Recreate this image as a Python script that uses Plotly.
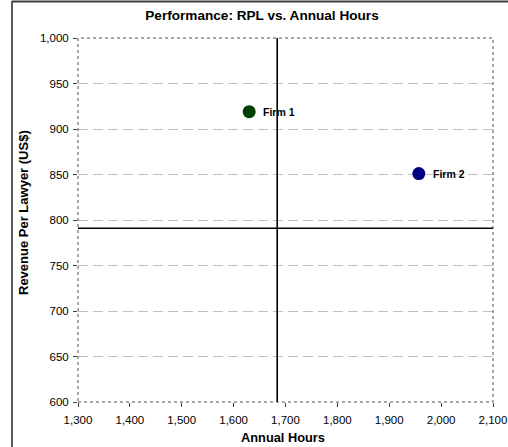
import plotly.graph_objects as go

# ---- data ----
firms = ["Firm 1", "Firm 2"]
annual_hours = [1630, 1957]
revenue_per_lawyer = [919, 851]
firm_colors = ["#003f00", "#000080"]
hours_benchmark = 1684
rpl_benchmark = 791
x_ticks = [1300, 1400, 1500, 1600, 1700, 1800, 1900, 2000, 2100]
y_ticks = [600, 650, 700, 750, 800, 850, 900, 950, 1000]

W, H = 508, 447
L, R, T, B = 78, 15, 38, 45
pw, ph = W - L - R, H - T - B


def px_x(p):
    return (p - L) / pw


def px_y(p):
    return 1 - (p - T) / ph


FONT = "Liberation Sans, Arial, sans-serif"

fig = go.Figure()
for name, x, y, c in zip(firms, annual_hours, revenue_per_lawyer, firm_colors):
    fig.add_trace(go.Scatter(
        x=[x], y=[y], mode="markers",
        marker=dict(size=13, color=c, line=dict(width=0)),
        showlegend=False, cliponaxis=False,
    ))
    fig.add_annotation(x=x, y=y, text=f"<b>{name}</b>", showarrow=False,
                       xanchor="left", yanchor="middle", xshift=12,
                       font=dict(family=FONT, size=10.5, color="#000000"))

fig.add_vline(x=hours_benchmark, line=dict(color="#000000", width=1.6))
fig.add_hline(y=rpl_benchmark, line=dict(color="#000000", width=1.6))

# plot area border (dotted)
fig.add_shape(type="rect", xref="paper", yref="paper", x0=0, x1=1, y0=0, y1=1,
              line=dict(color="#505050", width=1, dash="dot"), layer="above")

# outer chart border: left and top edges
fig.add_shape(type="line", xref="paper", yref="paper",
              x0=px_x(12), x1=px_x(12), y0=px_y(447), y1=px_y(1),
              line=dict(color="#333333", width=1.6), layer="above")
fig.add_shape(type="line", xref="paper", yref="paper",
              x0=px_x(12), x1=px_x(508), y0=px_y(1.5), y1=px_y(1.5),
              line=dict(color="#404040", width=2), layer="above")

fig.add_annotation(text="<b>Revenue Per Lawyer (US$)</b>", xref="paper", yref="paper",
                   x=px_x(23), y=px_y(212), textangle=-90, showarrow=False,
                   xanchor="center", yanchor="middle",
                   font=dict(family=FONT, size=13, color="#000000"))
fig.add_annotation(text="<b>Annual Hours</b>", xref="paper", yref="paper",
                   x=px_x(283), y=px_y(437), showarrow=False,
                   xanchor="center", yanchor="middle",
                   font=dict(family=FONT, size=12.8, color="#000000"))

fig.update_layout(
    width=W, height=H,
    margin=dict(l=L, r=R, t=T, b=B, pad=0, autoexpand=False),
    paper_bgcolor="#ffffff", plot_bgcolor="#ffffff",
    title=dict(text="<b>Performance: RPL vs. Annual Hours</b>",
               x=262 / W, y=1 - 15 / H, xanchor="center", yanchor="middle",
               font=dict(family=FONT, size=13.6, color="#000000")),
    font=dict(family=FONT, size=11.5, color="#000000"),
)
fig.update_xaxes(
    range=[x_ticks[0], x_ticks[-1]], tickvals=x_ticks,
    ticktext=[f"{v:,}" for v in x_ticks], automargin=False,
    showgrid=False, zeroline=False, showline=False,
    ticks="outside", ticklen=4, tickcolor="#404040", tickwidth=1,
    tickfont=dict(family=FONT, size=11.5, color="#000000"),
    ticklabelstandoff=3,
)
fig.update_yaxes(
    range=[y_ticks[0], y_ticks[-1]], tickvals=y_ticks,
    ticktext=[f"{v:,}" for v in y_ticks], automargin=False,
    showgrid=True, gridcolor="#c0c0c0", gridwidth=1, griddash="10px,5px",
    zeroline=False, showline=False,
    ticks="outside", ticklen=4, tickcolor="#404040", tickwidth=1,
    tickfont=dict(family=FONT, size=11.5, color="#000000"),
    ticklabelstandoff=2,
)

fig.write_html("out.html")
